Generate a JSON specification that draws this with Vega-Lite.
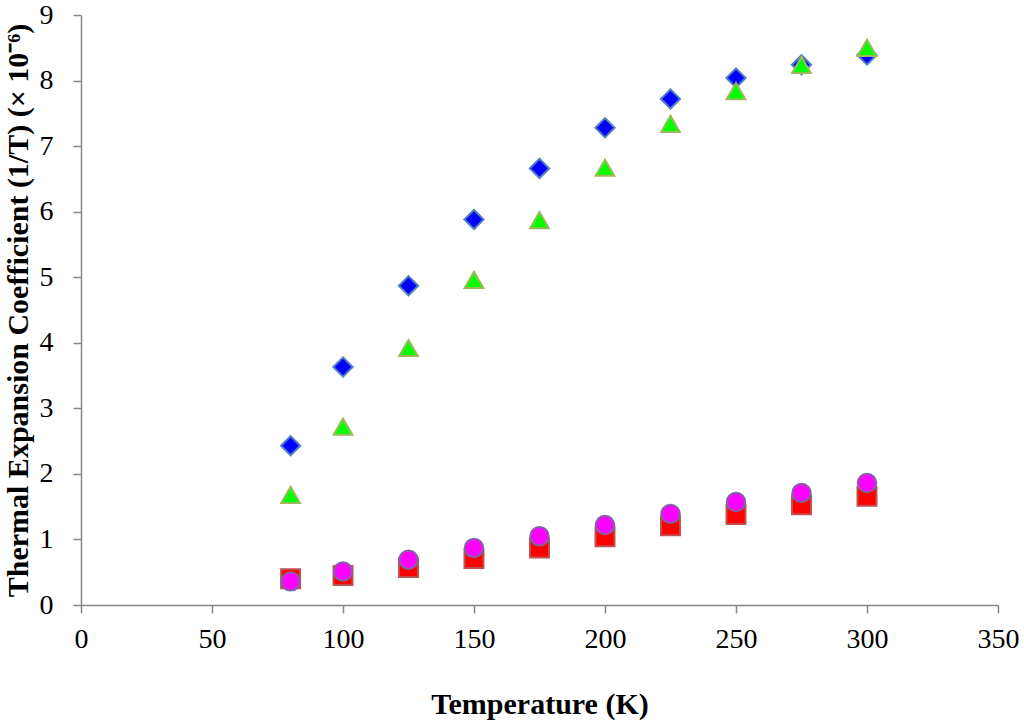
{
  "$schema": "https://vega.github.io/schema/vega-lite/v6.json",
  "autosize": {"type": "none"},
  "width": 917,
  "height": 590,
  "padding": {"left": 81, "top": 15, "right": 26, "bottom": 121},
  "background": "white",
  "config": {
    "view": {"stroke": null},
    "font": "Liberation Serif"
  },
  "data": {
    "values": [
      {"series": "A", "T": 80, "v": 2.43},
      {"series": "A", "T": 100, "v": 3.63},
      {"series": "A", "T": 125, "v": 4.87},
      {"series": "A", "T": 150, "v": 5.88},
      {"series": "A", "T": 175, "v": 6.66},
      {"series": "A", "T": 200, "v": 7.28},
      {"series": "A", "T": 225, "v": 7.72},
      {"series": "A", "T": 250, "v": 8.04},
      {"series": "A", "T": 275, "v": 8.24},
      {"series": "A", "T": 300, "v": 8.39},
      {"series": "B", "T": 80, "v": 0.40},
      {"series": "B", "T": 100, "v": 0.45},
      {"series": "B", "T": 125, "v": 0.57},
      {"series": "B", "T": 150, "v": 0.71},
      {"series": "B", "T": 175, "v": 0.87},
      {"series": "B", "T": 200, "v": 1.04},
      {"series": "B", "T": 225, "v": 1.21},
      {"series": "B", "T": 250, "v": 1.38},
      {"series": "B", "T": 275, "v": 1.53},
      {"series": "B", "T": 300, "v": 1.66},
      {"series": "C", "T": 80, "v": 1.68},
      {"series": "C", "T": 100, "v": 2.72},
      {"series": "C", "T": 125, "v": 3.92},
      {"series": "C", "T": 150, "v": 4.96},
      {"series": "C", "T": 175, "v": 5.87},
      {"series": "C", "T": 200, "v": 6.67},
      {"series": "C", "T": 225, "v": 7.34},
      {"series": "C", "T": 250, "v": 7.84},
      {"series": "C", "T": 275, "v": 8.24},
      {"series": "C", "T": 300, "v": 8.5},
      {"series": "D", "T": 80, "v": 0.36},
      {"series": "D", "T": 100, "v": 0.51},
      {"series": "D", "T": 125, "v": 0.69},
      {"series": "D", "T": 150, "v": 0.87},
      {"series": "D", "T": 175, "v": 1.05},
      {"series": "D", "T": 200, "v": 1.22},
      {"series": "D", "T": 225, "v": 1.39},
      {"series": "D", "T": 250, "v": 1.57},
      {"series": "D", "T": 275, "v": 1.71},
      {"series": "D", "T": 300, "v": 1.86}
    ]
  },
  "mark": {"type": "point", "filled": true, "opacity": 1, "strokeWidth": 2, "size": 330},
  "encoding": {
    "x": {
      "field": "T", "type": "quantitative",
      "scale": {"domain": [0, 350], "nice": false, "zero": true},
      "axis": {
        "title": "Temperature (K)",
        "values": [0, 50, 100, 150, 200, 250, 300, 350],
        "grid": false,
        "domainColor": "#868686", "domainWidth": 1.5,
        "tickColor": "#868686", "tickWidth": 1.5, "tickSize": 8,
        "labelFont": "Liberation Serif", "labelFontSize": 28, "labelColor": "black",
        "labelPadding": 12, "labelFlush": false,
        "titleFont": "Liberation Serif", "titleFontSize": 30, "titleFontWeight": "bold", "titleColor": "black",
        "titlePadding": 36
      }
    },
    "y": {
      "field": "v", "type": "quantitative",
      "scale": {"domain": [0, 9], "nice": false},
      "axis": {
        "title": "Thermal Expansion Coefficient (1/T) (× 10⁻⁶)",
        "values": [0, 1, 2, 3, 4, 5, 6, 7, 8, 9],
        "grid": false,
        "domainColor": "#868686", "domainWidth": 1.5,
        "tickColor": "#868686", "tickWidth": 1.5, "tickSize": 8,
        "labelFont": "Liberation Serif", "labelFontSize": 28, "labelColor": "black",
        "labelPadding": 20, "labelFlush": false,
        "titleFont": "Liberation Serif", "titleFontSize": 30, "titleFontWeight": "bold", "titleColor": "black",
        "titlePadding": 6
      }
    },
    "shape": {
      "field": "series", "type": "nominal",
      "scale": {"domain": ["A", "B", "C", "D"], "range": ["diamond", "square", "triangle-up", "circle"]},
      "legend": null
    },
    "fill": {
      "field": "series", "type": "nominal",
      "scale": {"domain": ["A", "B", "C", "D"], "range": ["#0000ff", "#ff0000", "#00ff00", "#ff00ff"]},
      "legend": null
    },
    "stroke": {
      "field": "series", "type": "nominal",
      "scale": {"domain": ["A", "B", "C", "D"], "range": ["#4f81bd", "#c0504d", "#9bbb59", "#8064a2"]},
      "legend": null
    },
    "size": {
      "field": "series", "type": "nominal",
      "scale": {"domain": ["A", "B", "C", "D"], "range": [370, 340, 340, 340]},
      "legend": null
    }
  }
}
